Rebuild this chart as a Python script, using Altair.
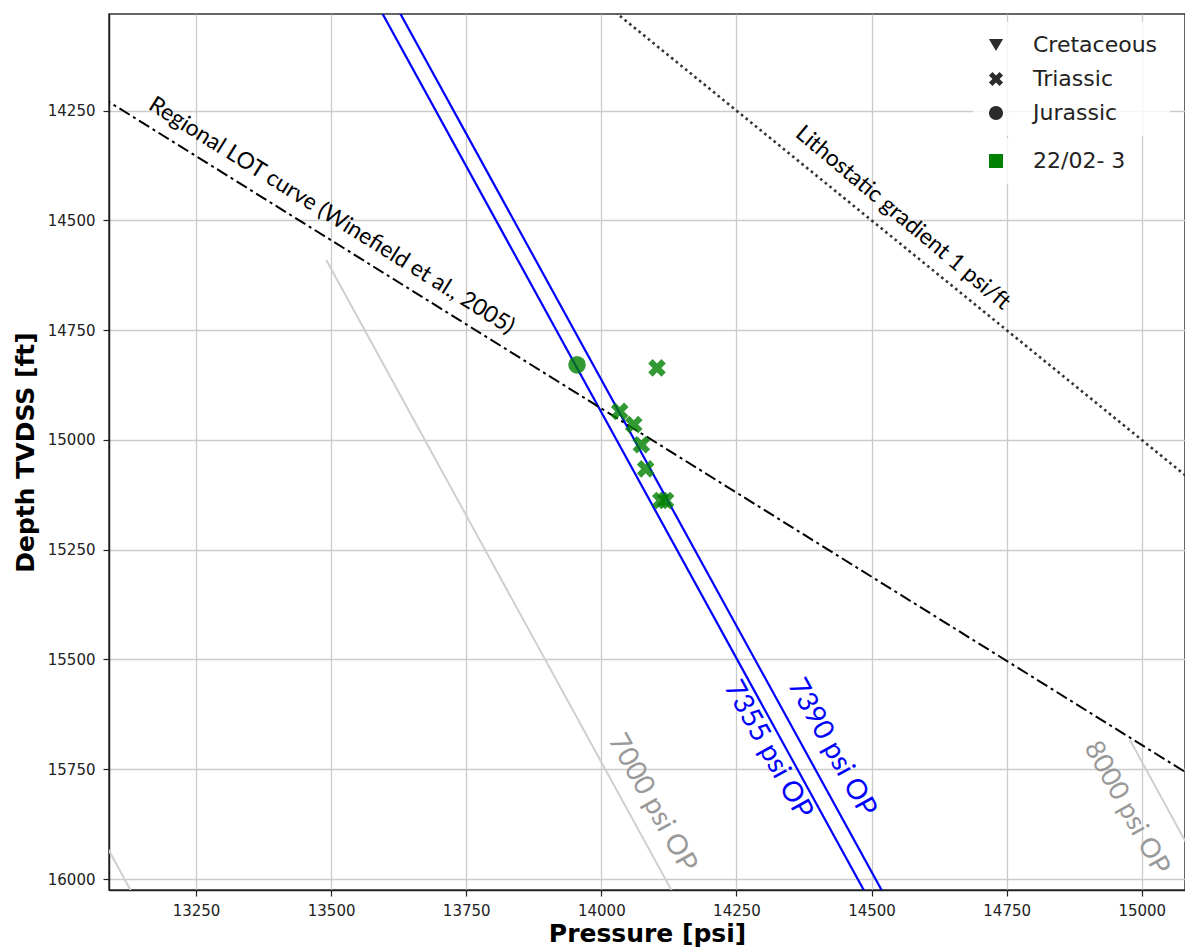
import altair as alt
import pandas as pd

# Formation pressure points, well 22/02- 3
well_name = "22/02- 3"
point_formation = ["Jurassic", "Triassic", "Triassic", "Triassic",
                   "Triassic", "Triassic", "Triassic", "Triassic"]
point_pressure = [13955, 14103, 14034, 14060, 14074, 14082, 14110, 14119]
point_depth = [14829, 14836, 14935, 14965, 15011, 15066, 15138, 15138]

legend_formations = ["Cretaceous", "Triassic", "Jurassic"]

# Overpressure lines along the hydrostatic gradient (start / end, psi and ft)
op_names = ["6000 psi OP", "7000 psi OP", "7355 psi OP", "7390 psi OP", "8000 psi OP"]
op_p_start = [13029, 13491, 13582, 13615, 14978]
op_d_start = [15800, 14590, 14000, 14000, 15683]
op_p_end = [13162, 14163, 14519, 14552, 15163]
op_d_end = [16100, 16100, 16100, 16100, 16100]

# Regional leak-off trend and 1 psi/ft lithostatic gradient
lot_pressure = [13000, 15200]
lot_depth = [14162, 15848]
litho_pressure = [14000, 15200]
litho_depth = [14000, 15200]

x_ticks = [13250, 13500, 13750, 14000, 14250, 14500, 14750, 15000]
y_ticks = [14250, 14500, 14750, 15000, 15250, 15500, 15750, 16000]

# Annotation texts and their anchor points
note_text = ["Regional LOT curve (Winefield et al., 2005)",
             "Lithostatic gradient 1 psi/ft",
             "7390 psi OP", "7355 psi OP", "7000 psi OP", "8000 psi OP"]
note_pressure = [13501, 14558, 14426, 14308, 14094, 14972]
note_depth = [14489, 14494, 15701, 15706, 15827, 15838]
note_angle = [32, 40, 61, 61, 61, 61]
note_size = [22.8, 22.8, 28, 28, 28, 27]
note_color = ["black", "black", "blue", "blue", "#999999", "#999999"]

# Thick filled "X" marker
X_PATH = ("M -1 -0.5 L -0.5 -1 L 0 -0.5 L 0.5 -1 L 1 -0.5 L 0.5 0 "
          "L 1 0.5 L 0.5 1 L 0 0.5 L -0.5 1 L -1 0.5 L -0.5 0 Z")

points = pd.DataFrame({
    "pressure": point_pressure,
    "depth": point_depth,
    "formation": point_formation,
    "well": [well_name] * len(point_pressure),
})

op_rows = []
for name, p0, d0, p1, d1 in zip(op_names, op_p_start, op_d_start, op_p_end, op_d_end):
    op_rows.append({"line": name, "pressure": p0, "depth": d0, "idx": 0})
    op_rows.append({"line": name, "pressure": p1, "depth": d1, "idx": 1})
op_df = pd.DataFrame(op_rows)
blue_df = op_df[op_df["line"].isin(["7355 psi OP", "7390 psi OP"])]
gray_df = op_df[~op_df["line"].isin(["7355 psi OP", "7390 psi OP"])]

lot_df = pd.DataFrame({"pressure": lot_pressure, "depth": lot_depth})
litho_df = pd.DataFrame({"pressure": litho_pressure, "depth": litho_depth})

x_scale = alt.Scale(domain=[13089, 15080], nice=False, zero=False)
y_scale = alt.Scale(domain=[14030, 16025], reverse=True, nice=False, zero=False)

x_enc = alt.X("pressure:Q", scale=x_scale,
              axis=alt.Axis(values=x_ticks, format="d", title="Pressure [psi]",
                            labelPadding=7, titlePadding=3))
y_enc = alt.Y("depth:Q", scale=y_scale,
              axis=alt.Axis(values=y_ticks, format="d", title="Depth TVDSS [ft]",
                            labelPadding=8, titlePadding=9))
x_plain = alt.X("pressure:Q")
y_plain = alt.Y("depth:Q")

gray_lines = alt.Chart(gray_df).mark_line(
    color="#cfcfcf", strokeWidth=2, clip=True
).encode(x=x_enc, y=y_enc, detail="line:N", order="idx:Q")

blue_lines = alt.Chart(blue_df).mark_line(
    color="blue", strokeWidth=2.2, clip=True
).encode(x=x_plain, y=y_plain, detail="line:N", order="idx:Q")

lot_line = alt.Chart(lot_df).mark_line(
    color="black", strokeWidth=2, strokeDash=[12, 4, 3, 4], clip=True
).encode(x=x_plain, y=y_plain)

litho_line = alt.Chart(litho_df).mark_line(
    color="#333333", strokeWidth=2.6, strokeDash=[2.6, 3.4], clip=True
).encode(x=x_plain, y=y_plain)


def note_layer(i):
    df = pd.DataFrame({"pressure": [note_pressure[i]], "depth": [note_depth[i]],
                       "label": [note_text[i]]})
    return alt.Chart(df).mark_text(
        font="Lato", fontSize=note_size[i], angle=note_angle[i],
        color=note_color[i], align="center", baseline="middle"
    ).encode(x=x_plain, y=y_plain, text="label:N")


notes = [note_layer(i) for i in range(len(note_text))]

scatter = alt.Chart(points).mark_point(
    filled=True, size=310, opacity=0.8, strokeWidth=0
).encode(
    x=x_plain,
    y=y_plain,
    shape=alt.Shape(
        "formation:N",
        scale=alt.Scale(domain=legend_formations,
                        range=["triangle-down", X_PATH, "circle"]),
        legend=alt.Legend(
            title=None, orient="none", legendX=864, legendY=8,
            padding=12, rowPadding=12, labelOffset=26,
            symbolSize=200, symbolFillColor="#2b2b2b",
            symbolStrokeColor="#2b2b2b", symbolStrokeWidth=0,
            symbolOpacity=1, fillColor="rgba(255,255,255,0.8)",
        ),
    ),
    color=alt.Color(
        "well:N",
        scale=alt.Scale(domain=[well_name], range=["green"]),
        legend=alt.Legend(
            title=None, orient="none", legendX=864, legendY=124,
            padding=12, rowPadding=12, labelOffset=26,
            symbolType="square", symbolSize=196, symbolOpacity=1,
            symbolStrokeWidth=0, fillColor="rgba(255,255,255,0.8)",
        ),
    ),
)

chart = alt.layer(
    gray_lines, blue_lines, lot_line, litho_line, *notes, scatter
).properties(
    width=1076,
    height=876,
    autosize=alt.AutoSizeParams(type="none"),
    padding={"left": 109, "top": 14, "right": 0, "bottom": 62},
).configure_view(
    stroke="#333333", strokeWidth=1.5
).configure_axis(
    labelFont="DejaVu Sans", labelFontSize=15, labelColor="#222222",
    tickColor="#222222", tickSize=6, tickWidth=1.2,
    domainColor="#222222", domainWidth=1.5,
    gridColor="#cbcbcb", gridWidth=1.3,
    titleFont="DejaVu Sans", titleFontWeight="bold", titleFontSize=25,
    titleColor="black",
).configure_legend(
    labelFont="DejaVu Sans", labelFontSize=22, labelColor="#222222",
)

chart.save("out.html", embed_options={"renderer": "svg", "actions": False})
